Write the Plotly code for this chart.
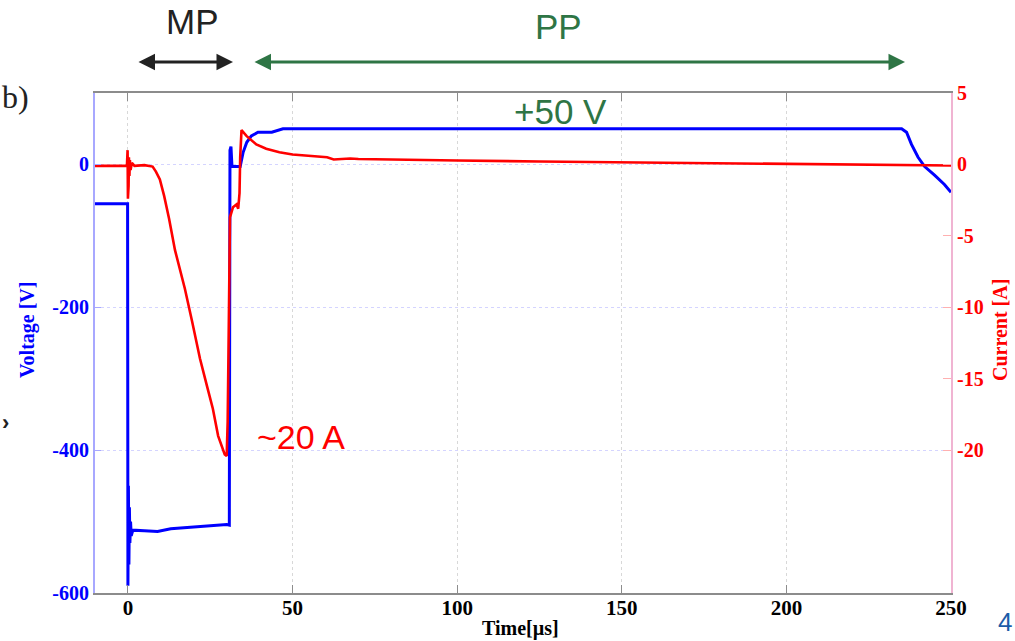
import plotly.graph_objects as go

# Probe voltage trace (V) versus time (µs)
v_time = [-10, -0.1, 0, 0.15, 0.3, 0.45, 0.6, 0.8, 1.0, 1.5, 5, 9, 13, 18, 24,
          30, 30.8, 31.0, 31.3, 31.6, 32, 33.5, 34.1, 35.0, 36.1, 37.5, 39.5, 43.7,
          45.5, 47.1, 50, 100, 150, 200, 235, 236.5, 238, 240, 242, 245, 248, 250]
voltage = [-55, -55, -590, -450, -560, -480, -530, -500, -520, -512, -513, -514,
           -510, -508, -506, -504, -505, 20, 25, -3, -3, -3, -3, 17, 31, 40,
           45, 45, 48, 50, 50, 50, 50, 50, 50, 45, 28, 10, -3, -15, -28, -39]

# Discharge current trace (A) versus time (µs)
i_time = [-10, -0.3, -0.1, 0, 0.1, 0.2, 0.3, 0.45, 0.6, 0.8, 1.2, 2, 5, 7.5, 8.5,
          9.7, 11, 12.5, 14.3, 17.3, 19.5, 21.9, 24, 25.8, 27.4, 29.4, 30.0, 30.3,
          30.6, 31.0, 31.9, 33.0, 33.5, 33.9, 34.1, 34.5, 36, 39, 42, 46, 50, 55,
          60.5, 62.5, 65, 67.5, 70, 80, 100, 125, 150, 175, 200, 225, 250]
current = [-0.1, -0.1, 1.0, -2.4, 0.8, -1.5, 0.5, -0.8, 0.3, -0.4, 0.1, -0.1,
           -0.05, -0.15, -0.5, -1.05, -2.2, -3.8, -6, -8.7, -11, -13.6, -15.5,
           -17.1, -19, -20.3, -20.4, -18, -12, -3.7, -3.0, -2.8, -3.1, -2.0, 0.5,
           2.4, 2.0, 1.4, 1.1, 0.85, 0.7, 0.6, 0.5, 0.35, 0.4, 0.42, 0.38, 0.33,
           0.28, 0.2, 0.14, 0.08, 0.02, -0.03, -0.07]

x_ticks = [0, 50, 100, 150, 200, 250]
v_ticks = [-600, -400, -200, 0]
i_ticks = [-20, -15, -10, -5, 0, 5]

BLUE = "#0000ff"
RED = "#ff0000"
GREEN = "#2e7545"
SERIF = "Liberation Serif, Times New Roman, serif"
SANS = "Liberation Sans, Arial, sans-serif"

# Plot-area geometry in pixels, used to place free text around the axes
L, R, T, B = 95, 951, 93, 593


def px(x):
    return (x - L) / (R - L)


def py(y):
    return (B - y) / (B - T)


fig = go.Figure()
fig.add_trace(go.Scatter(x=v_time, y=voltage, mode="lines", yaxis="y",
                         line=dict(color=BLUE, width=3), showlegend=False))
fig.add_trace(go.Scatter(x=i_time, y=current, mode="lines", yaxis="y2",
                         line=dict(color=RED, width=2.6), showlegend=False))

fig.update_layout(
    width=1015, height=641,
    margin=dict(l=L, r=1015 - R, t=T, b=641 - B),
    paper_bgcolor="white", plot_bgcolor="white",
    xaxis=dict(
        range=[-10, 250], tickvals=x_ticks, ticktext=[str(v) for v in x_ticks],
        showline=True, linecolor="#8c8c8c", linewidth=2, mirror="ticks",
        ticks="inside", ticklen=8, tickcolor="#8c8c8c",
        showgrid=True, gridcolor="#d8d8d8", griddash="dot", gridwidth=1,
        zeroline=False, automargin=False, ticklabelstandoff=-5,
        tickfont=dict(family=SERIF, size=21, color="black", weight="bold"),
    ),
    yaxis=dict(
        range=[-600, 100], tickvals=v_ticks, ticktext=[str(v) for v in v_ticks],
        showline=True, linecolor="#a8a8ff", linewidth=2,
        ticks="inside", ticklen=6, tickcolor="#a8a8ff",
        showgrid=True, gridcolor="#d4d4ff", griddash="dot", gridwidth=1,
        zeroline=False, automargin=False,
        tickfont=dict(family=SERIF, size=20, color=BLUE, weight="bold"),
    ),
    yaxis2=dict(
        range=[-30, 5], tickvals=i_ticks, ticktext=[str(v) for v in i_ticks],
        overlaying="y", side="right",
        showline=True, linecolor="#f0b4d2", linewidth=2,
        ticks="inside", ticklen=8, tickcolor="#ffb0b0",
        showgrid=False, zeroline=False, automargin=False,
        tickfont=dict(family=SERIF, size=20, color=RED, weight="bold"),
    ),
)


def label(text, x, y, font, angle=0):
    fig.add_annotation(x=px(x), y=py(y), xref="paper", yref="paper", text=text,
                       showarrow=False, xanchor="center", yanchor="middle",
                       textangle=angle, font=font)


# Axis titles
label("<b>Time[µs]</b>", 520, 628, dict(family=SERIF, size=20, color="black"))
label("<b>Voltage [V]</b>", 27, 330, dict(family=SERIF, size=20, color=BLUE), -90)
label("<b>Current [A]</b>", 1000, 330, dict(family=SERIF, size=20, color=RED), -90)

# Phase markers above the plot: main pulse (MP) and positive pulse (PP)
arrow_y = py(62)
fig.add_annotation(x=px(233), y=arrow_y, xref="paper", yref="paper",
                   ax=-(233 - 137), ay=0, axref="pixel", ayref="pixel", text="",
                   showarrow=True, arrowside="end+start", arrowhead=2,
                   arrowsize=1.1, arrowwidth=3, arrowcolor="#222222")
fig.add_annotation(x=px(905), y=arrow_y, xref="paper", yref="paper",
                   ax=-(905 - 253), ay=0, axref="pixel", ayref="pixel", text="",
                   showarrow=True, arrowside="end+start", arrowhead=2,
                   arrowsize=1.1, arrowwidth=3, arrowcolor=GREEN)
label("MP", 192, 21, dict(family=SANS, size=35, color="#222222"))
label("PP", 558, 26, dict(family=SANS, size=35, color=GREEN))

# Value callouts on the traces
fig.add_annotation(x=131.5, y=74, xref="x", yref="y", text="+50 V", showarrow=False,
                   xanchor="center", yanchor="middle",
                   font=dict(family=SANS, size=35, color=GREEN))
fig.add_annotation(x=52.6, y=-382, xref="x", yref="y", text="~20 A", showarrow=False,
                   xanchor="center", yanchor="middle",
                   font=dict(family=SANS, size=34, color=RED))

# Panel label, page number and a stray marker at the page edge
fig.add_annotation(x=px(0), y=py(97), xref="paper", yref="paper",
                   text="b)", showarrow=False, xanchor="left", yanchor="middle",
                   font=dict(family=SERIF, size=32, color="#222222"))
label("4", 1005, 622, dict(family=SANS, size=26, color="#1c5ca8"))
label("<b>›</b>", 5, 423, dict(family=SANS, size=22, color="#222222"))

fig.write_html("out.html")
